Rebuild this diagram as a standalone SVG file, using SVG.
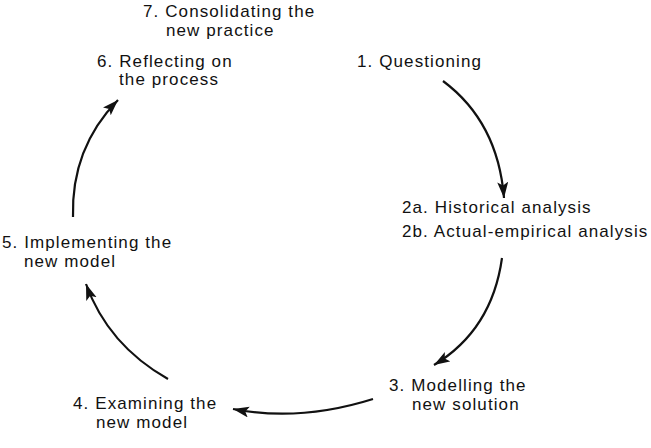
<svg xmlns="http://www.w3.org/2000/svg" width="651" height="448" viewBox="0 0 651 448">
<style>
text{font-family:"Liberation Sans",Arial,sans-serif;font-size:17px;letter-spacing:1.1px;fill:#111}
.c{fill:none;stroke:#111;stroke-width:2.2}
</style>
<defs>
<marker id="ah" markerUnits="userSpaceOnUse" markerWidth="18" markerHeight="13" refX="16" refY="5.5" orient="auto">
<path d="M0,0 L16,5.5 L0,11 L3.5,5.5 z" fill="#111"/>
</marker>
</defs>
<rect width="651" height="448" fill="#fff"/>
<g id="n7"><text x="143" y="17">7. Consolidating the</text><text x="166" y="36">new practice</text></g>
<g id="n6"><text x="97" y="67">6. Reflecting on</text><text x="119" y="85">the process</text></g>
<g id="n1"><text x="357" y="67">1. Questioning</text></g>
<g id="n2"><text x="402" y="213">2a. Historical analysis</text><text x="402" y="237">2b. Actual-empirical analysis</text></g>
<g id="n3"><text x="389" y="391">3. Modelling the</text><text x="412" y="410">new solution</text></g>
<g id="n4"><text x="73" y="409">4. Examining the</text><text x="96" y="428">new model</text></g>
<g id="n5"><text x="2" y="248">5. Implementing the</text><text x="24" y="267">new model</text></g>
<g id="connectors">
<path class="c" d="M443,81 Q498,122 504,198" marker-end="url(#ah)"/>
<path class="c" d="M502,258 Q492,330 434,365" marker-end="url(#ah)"/>
<path class="c" d="M373,399 Q300,422 233,409" marker-end="url(#ah)"/>
<path class="c" d="M168,379 Q108,345 86,284" marker-end="url(#ah)"/>
<path class="c" d="M73,217 Q71,148 118,100" marker-end="url(#ah)"/>
</g>
</svg>
